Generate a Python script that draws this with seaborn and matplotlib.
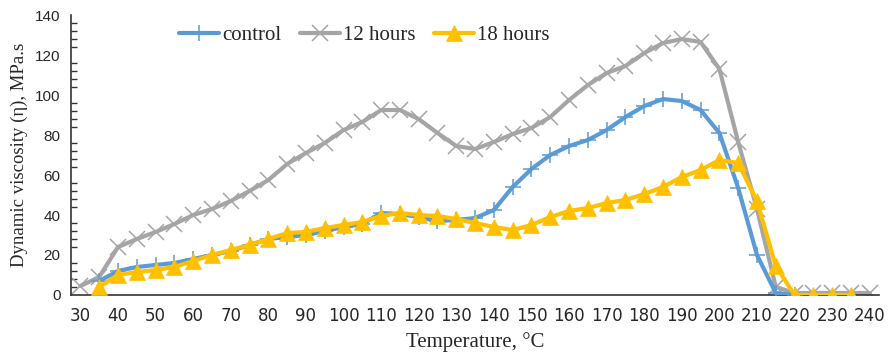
import matplotlib
matplotlib.use("Agg")
import matplotlib.pyplot as plt
import seaborn as sns
import pandas as pd
import numpy as np
from matplotlib.ticker import MultipleLocator

temps_12h = [30, 35, 40, 45, 50, 55, 60, 65, 70, 75, 80, 85, 90, 95, 100, 105, 110, 115, 120,
             125, 130, 135, 140, 145, 150, 155, 160, 165, 170, 175, 180, 185, 190, 195, 200,
             205, 210, 215, 220, 225, 230, 235, 240]
visc_12h = [4.5, 9, 24, 28, 31.5, 35.5, 40, 43, 47, 52, 57.5, 65.5, 71, 76, 82.5, 86.5, 92.5, 92.5,
            88, 81, 74.5, 73, 76.5, 80.5, 83.5, 89, 97.5, 105, 111, 114.5, 121, 126, 128, 126.5,
            113, 76.5, 43, 4, 1, 1, 1, 1, 1]

temps_control = [35, 40, 45, 50, 55, 60, 65, 70, 75, 80, 85, 90, 95, 100, 105, 110, 115, 120, 125,
                 130, 135, 140, 145, 150, 155, 160, 165, 170, 175, 180, 185, 190, 195, 200, 205,
                 210, 215, 220]
visc_control = [7, 12, 14, 15, 16, 18, 20, 22, 25, 28, 29, 30, 32, 34, 35.5, 41, 40.5, 39, 37,
                37.5, 38.5, 42.5, 54, 63, 70, 74.5, 77.5, 82.5, 89, 94.5, 98, 97, 92.5, 81, 53.5,
                20, 1, 0]

temps_18h = [35, 40, 45, 50, 55, 60, 65, 70, 75, 80, 85, 90, 95, 100, 105, 110, 115, 120, 125,
             130, 135, 140, 145, 150, 155, 160, 165, 170, 175, 180, 185, 190, 195, 200, 205,
             210, 215, 220, 225, 230, 235]
visc_18h = [4, 10, 11.5, 12.5, 14, 17, 20, 22.5, 25, 28, 31, 31.5, 33.5, 35, 36.5, 39.5, 41, 40,
            39.5, 38, 36, 34, 32.5, 35, 39, 42, 43.5, 46, 47.5, 50.5, 54, 59, 62.5, 67.5, 66, 47,
            14.5, 0, 0, 0, 0]

series_names = ["control", "12 hours", "18 hours"]
x_tick_values = list(range(30, 245, 5))
x_tick_labels = [str(t) if t % 10 == 0 else "" for t in x_tick_values]

df = pd.concat([
    pd.DataFrame({"T": temps_control, "v": visc_control, "s": series_names[0]}),
    pd.DataFrame({"T": temps_12h, "v": visc_12h, "s": series_names[1]}),
    pd.DataFrame({"T": temps_18h, "v": visc_18h, "s": series_names[2]}),
])

sns.set_style("white")
plt.rcParams["font.family"] = ["Liberation Serif", "DejaVu Serif"]

fig = plt.figure(figsize=(8.91, 3.58), dpi=100)
ax = fig.add_axes([0.0797, 0.176, 0.907, 0.782])

styles = {
    "control": dict(color="#5B9BD5", marker="+", ms=12, mew=1.1, zorder=3),
    "12 hours": dict(color="#A5A5A5", marker="x", ms=11, mew=1.1, zorder=2),
    "18 hours": dict(color="#FFC000", marker="^", ms=11, mew=0.5, zorder=4),
}
palette = {k: v["color"] for k, v in styles.items()}
sns.lineplot(data=df, x="T", y="v", hue="s", palette=palette, ax=ax, lw=3,
             legend=False, sort=False)
for line, name in zip(ax.lines, series_names):
    st = styles[name]
    line.set_marker(st["marker"])
    line.set_markersize(st["ms"])
    line.set_markeredgewidth(st["mew"])
    line.set_markeredgecolor(st["color"])
    line.set_markerfacecolor(st["color"])
    line.set_zorder(st["zorder"])
    line.set_label(name)
    line.set_solid_capstyle("round")
    line.set_solid_joinstyle("round")

ax.set_xlim(27.5, 242.5)
ax.set_ylim(0, 140)
ax.set_xticks(x_tick_values)
ax.set_xticklabels(x_tick_labels, family=["Liberation Sans Narrow", "DejaVu Sans"], fontsize=12)
ax.yaxis.set_major_locator(MultipleLocator(20))
ax.yaxis.set_minor_locator(MultipleLocator(4))
for lab in ax.get_yticklabels():
    lab.set_family(["Liberation Sans", "DejaVu Sans"])
    lab.set_fontsize(11)
ax.tick_params(axis="x", direction="out", length=5, width=1, color="#333333", pad=4)
ax.tick_params(axis="y", which="major", direction="inout", length=8, width=1, color="#333333")
ax.tick_params(axis="y", which="minor", direction="in", length=4, width=1, color="#333333", left=True)

for side in ["top", "right"]:
    ax.spines[side].set_visible(False)
for side in ["left", "bottom"]:
    ax.spines[side].set_color("#333333")
    ax.spines[side].set_linewidth(1.2)

ax.set_xlabel("Temperature, °C", fontsize=15, labelpad=5)
ax.set_ylabel("Dynamic viscosity (η), MPa.s", fontsize=13.5, labelpad=5)

handles = [ax.lines[i] for i in range(3)]
ax.legend(handles, series_names, loc="upper center", bbox_to_anchor=(0.363, 1.03), ncol=3,
          frameon=False, fontsize=15, handlelength=1.9, columnspacing=0.9, handletextpad=0.15)

fig.savefig("out.png", dpi=100)
